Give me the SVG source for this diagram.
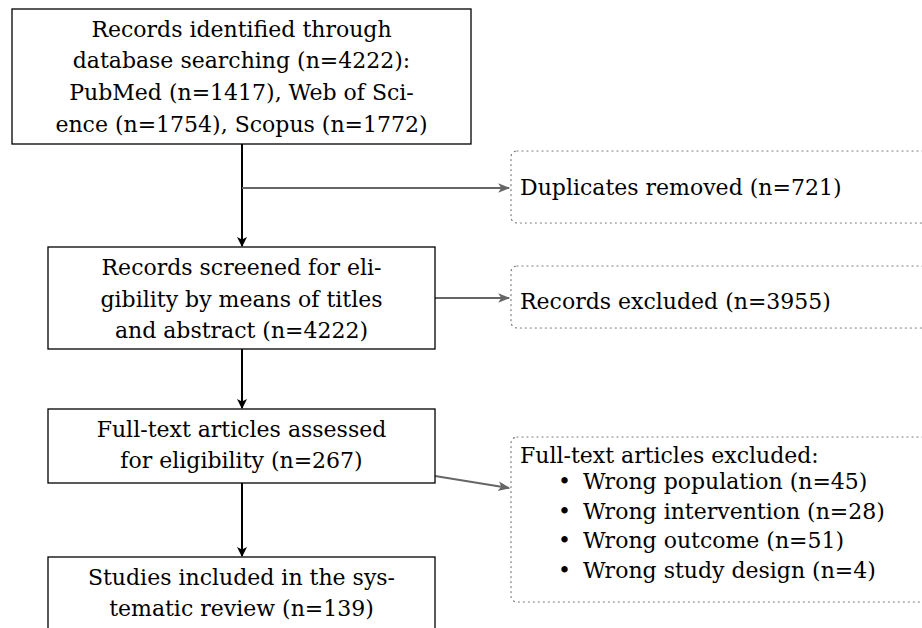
<svg xmlns="http://www.w3.org/2000/svg" width="922" height="628" viewBox="0 0 922 628">
<style>
text{font-family:"DejaVu Serif","Liberation Serif",serif;font-size:22px;fill:#000}
.c{text-anchor:middle}
.box{fill:#fff;stroke:#000;stroke-width:1.3}
.dot{fill:#fff;stroke:#777;stroke-width:1.2;stroke-dasharray:1 4;stroke-linecap:round}
.main{stroke:#000;stroke-width:2;fill:none}
.side{stroke:#666;stroke-width:2;fill:none}
</style>
<defs>
<marker id="ab" viewBox="0 0 10 10" refX="9" refY="5" markerWidth="10" markerHeight="10" orient="auto" markerUnits="userSpaceOnUse"><path d="M0,0 L10,5 L0,10 L2.5,5 Z" fill="#000"/></marker>
<marker id="ag" viewBox="0 0 10 10" refX="9" refY="5" markerWidth="12" markerHeight="12" orient="auto" markerUnits="userSpaceOnUse"><path d="M0,1 L10,5 L0,9 L2.5,5 Z" fill="#666"/></marker>
</defs>
<g id="connectors">
<path class="main" d="M242,144 V246" marker-end="url(#ab)"/>
<path class="side" d="M242,188 H509" marker-end="url(#ag)"/>
<path class="side" d="M435,298 H509" marker-end="url(#ag)"/>
<path class="main" d="M242,349 V408" marker-end="url(#ab)"/>
<path class="side" d="M435,476 L509,488" marker-end="url(#ag)"/>
<path class="main" d="M242,483 V556" marker-end="url(#ab)"/>
</g>
<g id="n1">
<rect class="box" x="12" y="9" width="459" height="135"/>
<text class="c" x="241.5" y="37">Records identified through</text>
<text class="c" x="241.5" y="68">database searching (n=4222):</text>
<text class="c" x="241.5" y="100">PubMed (n=1417), Web of Sci-</text>
<text class="c" x="241.5" y="132">ence (n=1754), Scopus (n=1772)</text>
</g>
<g id="n2">
<rect class="box" x="48" y="247" width="387" height="102"/>
<text class="c" x="241.5" y="275">Records screened for eli-</text>
<text class="c" x="241.5" y="307">gibility by means of titles</text>
<text class="c" x="241.5" y="338">and abstract (n=4222)</text>
</g>
<g id="n3">
<rect class="box" x="48" y="409" width="387" height="74"/>
<text class="c" x="241.5" y="437">Full-text articles assessed</text>
<text class="c" x="241.5" y="468">for eligibility (n=267)</text>
</g>
<g id="n4">
<rect class="box" x="48" y="557" width="387" height="90"/>
<text class="c" x="241.5" y="585">Studies included in the sys-</text>
<text class="c" x="241.5" y="616">tematic review (n=139)</text>
</g>
<g id="e1">
<rect class="dot" x="511" y="151" width="430" height="72" rx="6"/>
<text x="520" y="195">Duplicates removed (n=721)</text>
</g>
<g id="e2">
<rect class="dot" x="511" y="266" width="430" height="62" rx="6"/>
<text x="520" y="309">Records excluded (n=3955)</text>
</g>
<g id="e3">
<rect class="dot" x="511" y="437" width="430" height="165" rx="6"/>
<text x="520" y="463">Full-text articles excluded:</text>
<text y="489"><tspan x="558">•</tspan><tspan x="583">Wrong population (n=45)</tspan></text>
<text y="519"><tspan x="558">•</tspan><tspan x="583">Wrong intervention (n=28)</tspan></text>
<text y="548"><tspan x="558">•</tspan><tspan x="583">Wrong outcome (n=51)</tspan></text>
<text y="578"><tspan x="558">•</tspan><tspan x="583">Wrong study design (n=4)</tspan></text>
</g>
</svg>
